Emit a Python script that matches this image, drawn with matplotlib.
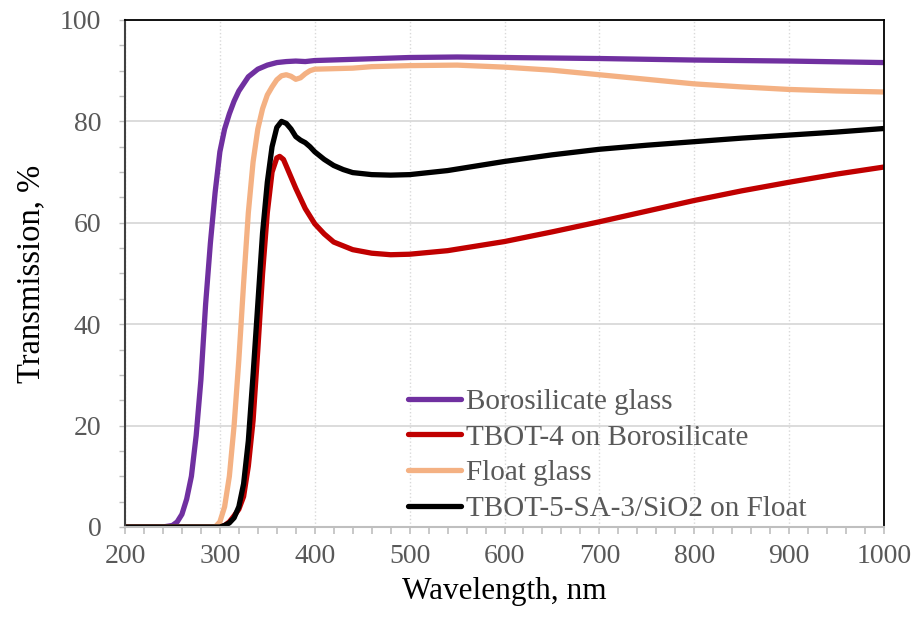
import matplotlib
matplotlib.use("Agg")
import matplotlib.pyplot as plt
from matplotlib.ticker import MultipleLocator

plt.rcParams['font.family'] = ['Liberation Serif', 'DejaVu Serif']

# transmission spectra, wavelength in nm, T in %
boro_wl = [200, 240, 250, 255, 260, 265, 270, 275, 280, 285, 290, 295, 300, 305, 310,
           315, 320, 330, 340, 350, 360, 370, 380, 390, 400, 450, 500, 550, 600, 700,
           800, 900, 1000]
boro_t = [0, 0, 0.3, 1.0, 2.5, 5.5, 10, 18, 29, 44, 56, 66, 74, 78.5, 81.5,
          84, 86, 88.8, 90.3, 91.1, 91.6, 91.8, 91.9, 91.8, 92.0, 92.3, 92.6, 92.7, 92.6, 92.4,
          92.1, 91.9, 91.6]

tbot4_wl = [200, 300, 305, 310, 315, 320, 325, 330, 335, 340, 345, 350, 355, 360, 363,
            367, 370, 375, 380, 390, 400, 410, 420, 440, 460, 480, 500, 540, 600, 650,
            700, 750, 800, 850, 900, 950, 1000]
tbot4_t = [0, 0, 0.3, 1, 2.2, 3.5, 6, 12, 21, 35, 50, 62, 70, 72.8, 73.1,
           72.5, 71.2, 69, 66.8, 62.8, 59.8, 57.8, 56.2, 54.7, 54, 53.7, 53.8, 54.5, 56.3, 58.2,
           60.2, 62.3, 64.4, 66.3, 68, 69.6, 71]

float_wl = [200, 295, 300, 305, 310, 315, 320, 325, 330, 335, 340, 345, 350, 355, 360,
            365, 370, 375, 380, 385, 390, 395, 400, 420, 440, 460, 500, 550, 600, 650,
            700, 750, 800, 850, 900, 950, 1000]
float_t = [0, 0, 1, 4, 10, 20, 33, 48, 62, 72, 78.5, 82.5, 85.2, 86.8, 88.2,
           89, 89.2, 88.9, 88.3, 88.6, 89.4, 90, 90.3, 90.4, 90.5, 90.8, 91, 91.1, 90.7, 90.1,
           89.2, 88.3, 87.4, 86.8, 86.3, 86.0, 85.8]

tbot5_wl = [200, 300, 305, 310, 315, 320, 325, 330, 335, 340, 345, 350, 355, 360, 365,
            370, 375, 380, 385, 390, 395, 400, 410, 420, 430, 440, 460, 480, 500, 540,
            600, 650, 700, 750, 800, 850, 900, 950, 1000]
tbot5_t = [0, 0, 0.3, 0.8, 1.8, 4, 8.5, 17, 30, 44, 58, 68, 75, 78.8, 80,
           79.6, 78.5, 77, 76.3, 75.8, 75, 74, 72.5, 71.3, 70.5, 69.9, 69.5, 69.4, 69.5, 70.3,
           72.1, 73.4, 74.5, 75.3, 76.0, 76.7, 77.3, 77.9, 78.6]

labels = ["Borosilicate glass", "TBOT-4 on Borosilicate", "Float glass",
          "TBOT-5-SA-3/SiO2 on Float"]
colors = ["#7030A0", "#C00000", "#F4B183", "#000000"]

fig = plt.figure(figsize=(9.11, 6.17), dpi=100)
ax = fig.add_axes([0.1372, 0.1459, 0.8332, 0.8217])

series = [(boro_wl, boro_t), (tbot4_wl, tbot4_t), (float_wl, float_t), (tbot5_wl, tbot5_t)]
for (wl, t), lab, c in zip(series, labels, colors):
    ax.plot(wl, t, color=c, lw=3.8, label=lab, solid_capstyle='round',
            solid_joinstyle='round')

ax.set_xlim(200, 1000)
ax.set_ylim(0, 100)
ax.xaxis.set_major_locator(MultipleLocator(100))
ax.xaxis.set_minor_locator(MultipleLocator(20))
ax.yaxis.set_major_locator(MultipleLocator(20))
ax.yaxis.set_minor_locator(MultipleLocator(5))

ax.grid(axis='y', which='major', color='#D9D9D9', lw=1.3, ls='-')
ax.grid(axis='x', which='major', color='#D9D9D9', lw=1, ls=':')
ax.set_axisbelow(True)

for s in ['top', 'right']:
    ax.spines[s].set_color('black')
    ax.spines[s].set_linewidth(1.3)
ax.spines['left'].set_color('#404040')
ax.spines['left'].set_linewidth(1.5)
ax.spines['bottom'].set_color('#BFBFBF')
ax.spines['bottom'].set_linewidth(1.5)

ax.tick_params(axis='x', which='both', direction='out', color='#BFBFBF', width=1.2,
               length=5, labelsize=20, labelcolor='#595959', pad=7)
ax.tick_params(axis='y', which='both', direction='out', color='#BFBFBF', width=1,
               length=4, labelsize=20, labelcolor='#595959', pad=13)

ax.set_xlabel("Wavelength, nm", fontsize=22.5, labelpad=6)
ax.set_ylabel("Transmission, %", fontsize=23.5, labelpad=10)

leg = ax.legend(loc='lower left', bbox_to_anchor=(0.35, -0.025), frameon=False,
                fontsize=21, handlelength=1.8, handletextpad=0.18, labelspacing=0.32,
                borderaxespad=0.2)
for txt in leg.get_texts():
    txt.set_color('#595959')

fig.savefig("out.png", dpi=100)
